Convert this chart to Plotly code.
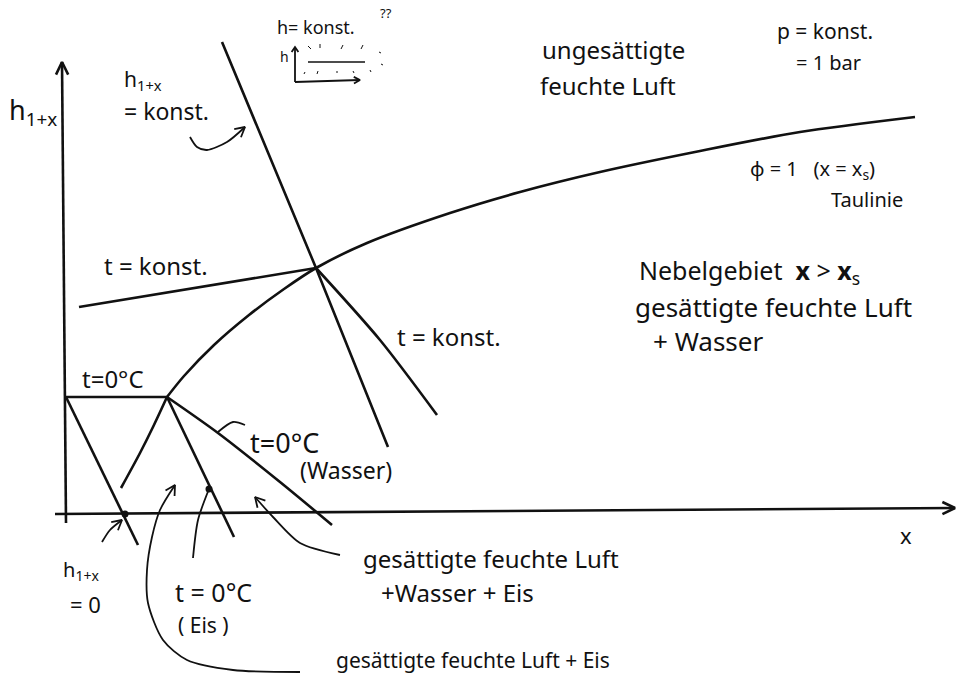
import math
import plotly.graph_objects as go

# Schematic h_{1+x},x-diagram of moist air (p = const = 1 bar).
# Coordinates: x = water content (horizontal), h = enthalpy h_{1+x} (vertical),
# origin at the crossing of the two axes.

# axes
x_axis_x = [-9, 891]
x_axis_h = [0, 6]
h_axis_x = [2, -2]
h_axis_h = [-9, 452]

# saturation line phi = 1 below 0 °C (over ice) and above (dew line)
sat_ice_x = [57, 76, 89, 103]
sat_ice_h = [26, 61, 87, 117]
dew_x = [103, 120, 150, 185, 220, 252, 303, 386, 456, 536, 636, 736, 851]
dew_h = [117, 138, 169, 199, 225, 246, 271, 301, 322, 342, 363, 382, 397]

# isotherm t = 0 °C in the unsaturated region
t0_x = [2, 103]
t0_h = [117, 117]
# h_{1+x} = 0
h0_x = [2, 74]
h0_h = [117, -31]
# t = 0 °C (ice) and t = 0 °C (water) in the fog region
t0_ice_x = [103, 170]
t0_ice_h = [117, -23]
t0_water_x = [103, 154, 216, 268]
t0_water_h = [117, 81, 32, -11]

# isotherm t = const through the dew point
t_unsat_x = [15, 252]
t_unsat_h = [207, 246]
t_fog_x = [252, 316, 373]
t_fog_h = [246, 174, 99]
# isenthalp h_{1+x} = const
hk_x = [158, 252, 324]
hk_h = [472, 246, 67]

# pointer curves (last point = arrow tip)
ptr_hk_x = [126, 133, 143, 163, 181]
ptr_hk_h = [377, 367, 364, 372, 387]
ptr_h0_x = [38, 46, 58]
ptr_h0_h = [-28, -16, -6]
ptr_mix_x = [276, 236, 209, 191]
ptr_mix_h = [-41, -29, -3, 17]
ptr_ice_x = [236, 169, 123, 99, 84, 83, 88, 96, 111]
ptr_ice_h = [-158, -156, -146, -126, -89, -56, -23, 4, 29]
# pointers without arrow head
ptr_eis_x = [129, 134, 145]
ptr_eis_h = [-44, -6, 25]
ptr_wasser_x = [154, 169, 181]
ptr_wasser_h = [82, 92, 89]

# marked points
dot_x = [61, 145]
dot_h = [0, 25]

# small sketch "h = konst. ??"
sk_v_x = [231, 231]
sk_v_h = [432, 467]
sk_hz_x = [231, 296]
sk_hz_h = [432, 434]
sk_line_x = [244, 301]
sk_line_h = [452, 452]
sk_ticks = [
    ((244, 468), (247, 465)), ((256, 470), (256, 466)), ((279, 469), (277, 465)),
    ((299, 469), (297, 465)), ((241, 442), (240, 440)), ((254, 443), (253, 440)),
    ((273, 443), (273, 441)), ((289, 443), (290, 441)), ((306, 444), (307, 442)),
    ((315, 462), (317, 461)), ((317, 450), (319, 449)),
]

# labels: (text, x, h, size, anchor)
labels = [
    ("h<sub>1+x</sub>", -31, 403, 27, "center"),
    ("h<sub>1+x</sub>", 58, 434, 21, "left"),
    ("= konst.", 58, 403, 23, "left"),
    ("h= konst.", 211, 487, 18, "left"),
    ("??", 314, 501, 13, "left"),
    ("h", 214, 458, 14, "left"),
    ("ungesättigte", 476, 465, 24, "left"),
    ("feuchte Luft", 474, 429, 24, "left"),
    ("p = konst.", 711, 483, 21, "left"),
    ("= 1 bar", 730, 452, 20, "left"),
    ("φ = 1   (x = x<sub>s</sub>)", 684, 345, 20, "left"),
    ("Taulinie", 765, 315, 20, "left"),
    ("t = konst.", 38, 249, 24, "left"),
    ("Nebelgebiet  <b>x</b> > <b>x</b><sub>s</sub>", 573, 243, 25, "left"),
    ("gesättigte feuchte Luft", 569, 207, 26, "left"),
    ("+ Wasser", 587, 173, 26, "left"),
    ("t = konst.", 331, 178, 24, "left"),
    ("t=0°C", 16, 136, 24, "left"),
    ("t=0°C", 184, 72, 27, "left"),
    ("(Wasser)", 234, 44, 23, "left"),
    ("x", 842, -21, 22, "center"),
    ("h<sub>1+x</sub>", -3, -56, 20, "left"),
    ("= 0", 4, -90, 22, "left"),
    ("t = 0°C", 109, -78, 25, "left"),
    ("( Eis )", 112, -111, 21, "left"),
    ("gesättigte feuchte Luft", 297, -44, 24, "left"),
    ("+Wasser + Eis", 315, -78, 24, "left"),
    ("gesättigte feuchte Luft + Eis", 270, -146, 21, "left"),
]

INK = "#111111"
LW = 2.6
FONT = "Noto Sans"


def arrow_head(xs, hs, length=11, spread=0.5):
    """Open V-shaped head at the last point of a polyline."""
    tx, th = xs[-1], hs[-1]
    ang = math.atan2(th - hs[-2], tx - xs[-2])
    pts_x, pts_h = [], []
    for s in (spread, -spread):
        a = ang + math.pi - s
        pts_x.append(tx + length * math.cos(a))
        pts_h.append(th + length * math.sin(a))
    return [pts_x[0], tx, pts_x[1]], [pts_h[0], th, pts_h[1]]


fig = go.Figure()


def stroke(xs, hs, width=LW, smooth=True):
    fig.add_trace(go.Scatter(
        x=xs, y=hs, mode="lines",
        line=dict(color=INK, width=width, shape="spline" if smooth else "linear",
                  smoothing=0.8),
        hoverinfo="skip", showlegend=False))


# axes with arrow heads
stroke(x_axis_x, x_axis_h, smooth=False)
stroke(*arrow_head(x_axis_x, x_axis_h, 14, 0.45), smooth=False)
stroke(h_axis_x, h_axis_h, smooth=False)
stroke(*arrow_head(h_axis_x, h_axis_h, 14, 0.45), smooth=False)

# state lines
for xs, hs in [(sat_ice_x, sat_ice_h), (dew_x, dew_h), (t0_x, t0_h), (h0_x, h0_h),
               (t0_ice_x, t0_ice_h), (t0_water_x, t0_water_h),
               (t_unsat_x, t_unsat_h), (t_fog_x, t_fog_h), (hk_x, hk_h)]:
    stroke(xs, hs)

# pointers
for xs, hs in [(ptr_hk_x, ptr_hk_h), (ptr_h0_x, ptr_h0_h),
               (ptr_mix_x, ptr_mix_h), (ptr_ice_x, ptr_ice_h)]:
    stroke(xs, hs, width=1.8)
    stroke(*arrow_head(xs, hs), width=1.8, smooth=False)
for xs, hs in [(ptr_eis_x, ptr_eis_h), (ptr_wasser_x, ptr_wasser_h)]:
    stroke(xs, hs, width=1.8)

fig.add_trace(go.Scatter(x=dot_x, y=dot_h, mode="markers",
                         marker=dict(color=INK, size=7),
                         hoverinfo="skip", showlegend=False))

# sketch of h = konst.
stroke(sk_v_x, sk_v_h, width=1.8, smooth=False)
stroke(*arrow_head(sk_v_x, sk_v_h, 6, 0.6), width=1.8, smooth=False)
stroke(sk_hz_x, sk_hz_h, width=1.8, smooth=False)
stroke(*arrow_head(sk_hz_x, sk_hz_h, 7, 0.5), width=1.8, smooth=False)
stroke(sk_line_x, sk_line_h, width=1.5, smooth=False)
for (a, b) in sk_ticks:
    stroke([a[0], b[0]], [a[1], b[1]], width=1.0, smooth=False)

for text, x, h, size, anchor in labels:
    fig.add_annotation(x=x, y=h, xref="x", yref="y", text=text, showarrow=False,
                       xanchor=anchor, yanchor="middle",
                       font=dict(family=FONT, size=size, color=INK))

fig.update_layout(
    width=972, height=679,
    margin=dict(l=0, r=0, t=0, b=0),
    paper_bgcolor="white", plot_bgcolor="white",
    xaxis=dict(range=[-64, 908], visible=False, fixedrange=True),
    yaxis=dict(range=[-165, 514], visible=False, fixedrange=True),
)

fig.write_html("out.html")
